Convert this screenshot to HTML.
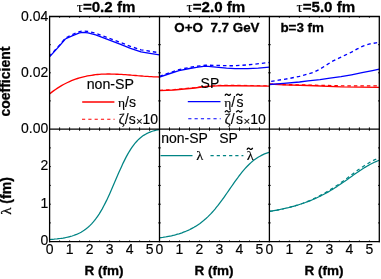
<!DOCTYPE html>
<html><head><meta charset="utf-8"><title>chart</title>
<style>html,body{margin:0;padding:0;background:#fff;}body{width:381px;height:279px;overflow:hidden;}svg{display:block;}text{font-family:"Liberation Sans",sans-serif;fill:#000;stroke:#000;stroke-width:0.15px;}.b{font-weight:bold;stroke-width:0.3px;}.s{font-family:"Liberation Serif",serif;}.tx{filter:grayscale(1);}</style></head><body>
<svg width="381" height="279" viewBox="0 0 381 279">
<rect width="381" height="279" fill="#fff"/>
<polyline points="49.5,94.0 51.5,92.4 53.5,90.9 55.5,89.5 57.5,88.1 59.5,86.9 61.5,85.7 63.5,84.5 65.5,83.5 67.5,82.5 69.5,81.6 71.5,80.7 73.5,79.9 75.5,79.2 77.5,78.5 79.5,77.9 81.5,77.3 83.5,76.8 85.5,76.4 87.5,75.9 89.5,75.6 91.5,75.3 93.5,75.0 95.5,74.7 97.5,74.5 99.5,74.4 101.5,74.2 103.5,74.1 105.5,74.1 107.5,74.0 109.5,74.0 111.5,74.1 113.5,74.1 115.5,74.2 117.5,74.2 119.5,74.3 121.5,74.4 123.5,74.6 125.5,74.7 127.5,74.9 129.5,75.0 131.5,75.2 133.5,75.3 135.5,75.5 137.5,75.7 139.5,75.8 141.5,76.0 143.5,76.2 145.5,76.3 147.5,76.4 149.5,76.6 151.5,76.7 153.5,76.8 155.5,76.9 157.5,76.9 159.5,77.0" fill="none" stroke="#ff0000" stroke-width="1.35" stroke-linejoin="round"/>
<polyline points="49.5,56.9 54.3,51.6 59.5,45.9 65.3,39.0 72.1,35.9 79.5,32.9 83.0,32.4 88.0,32.9 95.7,34.8 106.2,38.9 120.0,44.1 130.5,48.4 141.0,51.9 151.5,53.6 159.5,54.9" fill="none" stroke="#0000ff" stroke-width="1.35" stroke-linejoin="round"/>
<polyline points="49.5,56.1 54.3,50.9 59.5,45.1 65.3,38.2 72.1,34.7 79.5,31.6 83.0,30.9 88.0,31.5 95.7,33.2 106.2,37.2 120.0,42.3 130.5,46.4 141.0,49.8 151.5,51.5 159.5,52.8" fill="none" stroke="#0000ff" stroke-width="1.35" stroke-linejoin="round" stroke-dasharray="3.5,3.0" stroke-dashoffset="0.7"/>
<polyline points="159.5,90.6 173.7,90.0 189.5,88.5 195.0,88.0 198.0,87.5 205.5,86.7 221.2,85.7 235.0,85.7 269.4,86.2" fill="none" stroke="#ff0000" stroke-width="1.35" stroke-linejoin="round"/>
<polyline points="159.5,90.2 173.7,89.5 189.5,88.0 195.0,87.5 198.0,87.0 205.5,86.2 221.2,85.2 235.0,85.2 269.4,85.8" fill="none" stroke="#ff0000" stroke-width="0.9" stroke-linejoin="round" stroke-dasharray="3.5,3.0"/>
<polyline points="159.5,77.1 168.5,74.0 179.0,70.6 189.5,68.5 195.0,67.6 198.0,67.2 205.5,66.2 216.0,67.2 226.5,68.2 235.0,68.6 247.7,68.6 258.2,68.1 269.4,67.2" fill="none" stroke="#0000ff" stroke-width="1.35" stroke-linejoin="round"/>
<polyline points="159.5,76.4 168.5,73.1 179.0,69.6 189.5,67.4 195.0,66.5 205.5,65.2 216.0,65.4 226.5,65.7 235.1,65.7 247.7,64.9 260.3,63.5 269.4,62.5" fill="none" stroke="#0000ff" stroke-width="1.35" stroke-linejoin="round" stroke-dasharray="3.5,3.0"/>
<polyline points="269.4,84.1 283.7,84.8 308.0,85.5 341.0,86.8 379.3,87.4" fill="none" stroke="#ff0000" stroke-width="1.35" stroke-linejoin="round"/>
<polyline points="269.4,84.1 283.7,84.6 308.0,85.1 341.0,85.8 379.3,85.9" fill="none" stroke="#ff0000" stroke-width="1.35" stroke-linejoin="round" stroke-dasharray="3.5,3.0"/>
<polyline points="269.4,84.5 283.7,83.4 299.5,82.0 308.0,80.9 320.0,79.6 330.0,78.2 341.0,76.7 351.5,74.8 362.0,72.7 372.5,70.6 379.3,69.2" fill="none" stroke="#0000ff" stroke-width="1.35" stroke-linejoin="round"/>
<polyline points="269.4,81.7 278.5,80.2 289.0,78.5 299.5,76.4 307.7,74.1 314.0,72.2 320.3,68.9 326.4,65.0 332.6,61.2 338.9,58.1 345.2,55.1 351.5,52.2 357.3,48.9 363.6,45.8 369.9,43.9 376.2,42.8 379.3,42.4" fill="none" stroke="#0000ff" stroke-width="1.35" stroke-linejoin="round" stroke-dasharray="3.5,3.0" stroke-dashoffset="-1.8"/>
<polyline points="49.6,239.5 51.1,239.4 52.6,239.3 54.1,239.2 55.6,239.0 57.1,238.9 58.6,238.7 60.1,238.5 61.6,238.3 63.1,238.1 64.6,237.8 66.1,237.5 67.6,237.2 69.1,236.8 70.6,236.4 72.1,236.0 73.6,235.5 75.1,234.9 76.6,234.4 78.1,233.7 79.6,233.0 81.1,232.2 82.6,231.3 84.1,230.3 85.6,229.2 87.1,228.1 88.6,226.8 90.1,225.4 91.6,223.9 93.1,222.2 94.6,220.4 96.1,218.4 97.6,216.3 99.1,214.1 100.6,211.6 102.1,209.1 103.6,206.3 105.1,203.4 106.6,200.4 108.1,197.2 109.6,193.9 111.1,190.5 112.6,187.1 114.1,183.6 115.6,180.1 117.1,176.6 118.6,173.1 120.1,169.7 121.6,166.4 123.1,163.1 124.6,160.1 126.1,157.1 127.6,154.4 129.1,151.8 130.6,149.4 132.1,147.1 133.6,145.1 135.1,143.2 136.6,141.5 138.1,139.9 139.6,138.5 141.1,137.3 142.6,136.1 144.1,135.1 145.6,134.2 147.1,133.4 148.6,132.7 150.1,132.1 151.6,131.5 153.1,131.0 154.6,130.6 156.1,130.2 157.6,129.9 159.1,129.6 159.5,129.5" fill="none" stroke="#008484" stroke-width="1.25" stroke-linejoin="round"/>
<polyline points="159.5,237.9 161.0,237.7 162.5,237.5 164.0,237.2 165.5,237.0 167.0,236.7 168.5,236.4 170.0,236.1 171.5,235.8 173.0,235.4 174.5,235.1 176.0,234.7 177.5,234.2 179.0,233.8 180.5,233.3 182.0,232.8 183.5,232.2 185.0,231.7 186.5,231.0 188.0,230.4 189.5,229.7 191.0,228.9 192.5,228.1 194.0,227.3 195.5,226.4 197.0,225.4 198.5,224.4 200.0,223.4 201.5,222.2 203.0,221.1 204.5,219.8 206.0,218.5 207.5,217.1 209.0,215.6 210.5,214.1 212.0,212.5 213.5,210.8 215.0,209.1 216.5,207.2 218.0,205.4 219.5,203.4 221.0,201.4 222.5,199.4 224.0,197.3 225.5,195.2 227.0,193.0 228.5,190.9 230.0,188.7 231.5,186.5 233.0,184.4 234.5,182.2 236.0,180.1 237.5,178.1 239.0,176.0 240.5,174.1 242.0,172.2 243.5,170.4 245.0,168.7 246.5,167.0 248.0,165.5 249.5,164.0 251.0,162.6 252.5,161.3 254.0,160.1 255.5,159.0 257.0,158.0 258.5,157.0 260.0,156.2 261.5,155.4 263.0,154.6 264.5,153.9 266.0,153.3 267.5,152.8 269.0,152.3 269.4,152.2" fill="none" stroke="#008484" stroke-width="1.25" stroke-linejoin="round"/>
<polyline points="269.4,211.4 270.9,211.1 272.4,210.9 273.9,210.6 275.4,210.3 276.9,210.1 278.4,209.8 279.9,209.5 281.4,209.2 282.9,208.9 284.4,208.5 285.9,208.2 287.4,207.8 288.9,207.5 290.4,207.1 291.9,206.7 293.4,206.3 294.9,205.9 296.4,205.4 297.9,205.0 299.4,204.5 300.9,204.0 302.4,203.5 303.9,203.0 305.4,202.5 306.9,201.9 308.4,201.4 309.9,200.8 311.4,200.2 312.9,199.5 314.4,198.9 315.9,198.2 317.4,197.5 318.9,196.8 320.4,196.1 321.9,195.3 323.4,194.5 324.9,193.7 326.4,192.9 327.9,192.1 329.4,191.2 330.9,190.3 332.4,189.4 333.9,188.5 335.4,187.5 336.9,186.6 338.4,185.6 339.9,184.6 341.4,183.5 342.9,182.5 344.4,181.5 345.9,180.4 347.4,179.4 348.9,178.3 350.4,177.2 351.9,176.2 353.4,175.1 354.9,174.0 356.4,173.0 357.9,172.0 359.4,170.9 360.9,170.0 362.4,169.0 363.9,168.0 365.4,167.1 366.9,166.2 368.4,165.4 369.9,164.5 371.4,163.7 372.9,163.0 374.4,162.3 375.9,161.6 377.4,161.0 378.9,160.4 379.3,160.2" fill="none" stroke="#008484" stroke-width="1.25" stroke-linejoin="round"/>
<polyline points="269.4,211.4 270.9,211.1 272.4,210.9 273.9,210.6 275.4,210.3 276.9,210.1 278.4,209.8 279.9,209.5 281.4,209.2 282.9,208.9 284.4,208.5 285.9,208.2 287.4,207.8 288.9,207.5 290.4,207.1 291.9,206.7 293.4,206.3 294.9,205.9 296.4,205.4 297.9,205.0 299.4,204.5 300.9,204.0 302.4,203.5 303.9,202.9 305.4,202.3 306.9,201.7 308.4,201.1 309.9,200.5 311.4,199.8 312.9,199.1 314.4,198.4 315.9,197.7 317.4,197.0 318.9,196.2 320.4,195.4 321.9,194.6 323.4,193.8 324.9,193.0 326.4,192.1 327.9,191.2 329.4,190.3 330.9,189.3 332.4,188.4 333.9,187.4 335.4,186.4 336.9,185.4 338.4,184.4 339.9,183.3 341.4,182.2 342.9,181.2 344.4,180.1 345.9,179.0 347.4,177.9 348.9,176.7 350.4,175.6 351.9,174.5 353.4,173.4 354.9,172.3 356.4,171.2 357.9,170.1 359.4,169.1 360.9,168.0 362.4,167.0 363.9,166.0 365.4,165.0 366.9,164.1 368.4,163.2 369.9,162.3 371.4,161.5 372.9,160.7 374.4,159.9 375.9,159.2 377.4,158.5 378.9,157.9 379.3,157.7" fill="none" stroke="#008484" stroke-width="1.25" stroke-linejoin="round" stroke-dasharray="3.5,3.0"/>
<g stroke="#000" stroke-width="1.3" fill="none">
<path d="M49.0,16.5H379.90000000000003M49.0,129.1H379.90000000000003M49.0,241.7H379.90000000000003"/>
<path d="M49.6,15.9V242.29999999999998"/>
<path d="M159.5,15.9V242.29999999999998"/>
<path d="M269.4,15.9V242.29999999999998"/>
<path d="M379.3,15.9V242.29999999999998"/>
</g>
<path stroke="#000" stroke-width="0.9" fill="none" d="M59.6,16.5v1.3M59.6,127.35v3.5M59.6,241.7v-1.3M69.6,16.5v1.3M69.6,127.35v3.5M69.6,241.7v-1.3M79.6,16.5v1.3M79.6,127.35v3.5M79.6,241.7v-1.3M89.6,16.5v1.3M89.6,127.35v3.5M89.6,241.7v-1.3M99.6,16.5v1.3M99.6,127.35v3.5M99.6,241.7v-1.3M109.6,16.5v1.3M109.6,127.35v3.5M109.6,241.7v-1.3M119.6,16.5v1.3M119.6,127.35v3.5M119.6,241.7v-1.3M129.6,16.5v1.3M129.6,127.35v3.5M129.6,241.7v-1.3M139.6,16.5v1.3M139.6,127.35v3.5M139.6,241.7v-1.3M149.6,16.5v1.3M149.6,127.35v3.5M149.6,241.7v-1.3M49.6,100.9h1.3M49.6,72.8h1.3M49.6,44.7h1.3M49.6,222.9h1.3M49.6,204.2h1.3M49.6,185.4h1.3M49.6,166.6h1.3M49.6,147.9h1.3M169.5,16.5v1.3M169.5,127.35v3.5M169.5,241.7v-1.3M179.5,16.5v1.3M179.5,127.35v3.5M179.5,241.7v-1.3M189.5,16.5v1.3M189.5,127.35v3.5M189.5,241.7v-1.3M199.5,16.5v1.3M199.5,127.35v3.5M199.5,241.7v-1.3M209.5,16.5v1.3M209.5,127.35v3.5M209.5,241.7v-1.3M219.5,16.5v1.3M219.5,127.35v3.5M219.5,241.7v-1.3M229.5,16.5v1.3M229.5,127.35v3.5M229.5,241.7v-1.3M239.5,16.5v1.3M239.5,127.35v3.5M239.5,241.7v-1.3M249.5,16.5v1.3M249.5,127.35v3.5M249.5,241.7v-1.3M259.5,16.5v1.3M259.5,127.35v3.5M259.5,241.7v-1.3M158.15,100.9h2.7M158.15,72.8h2.7M158.15,44.7h2.7M158.15,222.9h2.7M158.15,204.2h2.7M158.15,185.4h2.7M158.15,166.6h2.7M158.15,147.9h2.7M279.4,16.5v1.3M279.4,127.35v3.5M279.4,241.7v-1.3M289.4,16.5v1.3M289.4,127.35v3.5M289.4,241.7v-1.3M299.4,16.5v1.3M299.4,127.35v3.5M299.4,241.7v-1.3M309.4,16.5v1.3M309.4,127.35v3.5M309.4,241.7v-1.3M319.4,16.5v1.3M319.4,127.35v3.5M319.4,241.7v-1.3M329.4,16.5v1.3M329.4,127.35v3.5M329.4,241.7v-1.3M339.4,16.5v1.3M339.4,127.35v3.5M339.4,241.7v-1.3M349.4,16.5v1.3M349.4,127.35v3.5M349.4,241.7v-1.3M359.4,16.5v1.3M359.4,127.35v3.5M359.4,241.7v-1.3M369.4,16.5v1.3M369.4,127.35v3.5M369.4,241.7v-1.3M268.05,100.9h2.7M379.3,100.9h-1.3M268.05,72.8h2.7M379.3,72.8h-1.3M268.05,44.7h2.7M379.3,44.7h-1.3M268.05,222.9h2.7M379.3,222.9h-1.3M268.05,204.2h2.7M379.3,204.2h-1.3M268.05,185.4h2.7M379.3,185.4h-1.3M268.05,166.6h2.7M379.3,166.6h-1.3M268.05,147.9h2.7M379.3,147.9h-1.3"/>
<g class="tx">
<text x="76.7" y="12.4" font-size="15" class="s" stroke-width="0.35">τ</text>
<text x="82.9" y="12.4" font-size="15.1" class="b">=0.2 fm</text>
<text x="186.6" y="12.4" font-size="15" class="s" stroke-width="0.35">τ</text>
<text x="192.8" y="12.4" font-size="15.1" class="b">=2.0 fm</text>
<text x="296.5" y="12.4" font-size="15" class="s" stroke-width="0.35">τ</text>
<text x="302.7" y="12.4" font-size="15.1" class="b">=5.0 fm</text>
<text x="48.3" y="20.5" font-size="14" text-anchor="end">0.04</text>
<text x="48.3" y="76.7" font-size="14" text-anchor="end">0.02</text>
<text x="48.3" y="132.9" font-size="14" text-anchor="end">0.00</text>
<text x="48.3" y="170.3" font-size="14" text-anchor="end">2</text>
<text x="48.3" y="207.6" font-size="14" text-anchor="end">1</text>
<text x="48.3" y="245" font-size="14" text-anchor="end">0</text>
<text x="49.6" y="253.9" font-size="14" text-anchor="middle">0</text>
<text x="69.6" y="253.9" font-size="14" text-anchor="middle">1</text>
<text x="89.6" y="253.9" font-size="14" text-anchor="middle">2</text>
<text x="109.6" y="253.9" font-size="14" text-anchor="middle">3</text>
<text x="129.6" y="253.9" font-size="14" text-anchor="middle">4</text>
<text x="149.6" y="253.9" font-size="14" text-anchor="middle">5</text>
<text x="104.1" y="275.4" font-size="13.5" text-anchor="middle" class="b">R (fm)</text>
<text x="159.5" y="253.9" font-size="14" text-anchor="middle">0</text>
<text x="179.5" y="253.9" font-size="14" text-anchor="middle">1</text>
<text x="199.5" y="253.9" font-size="14" text-anchor="middle">2</text>
<text x="219.5" y="253.9" font-size="14" text-anchor="middle">3</text>
<text x="239.5" y="253.9" font-size="14" text-anchor="middle">4</text>
<text x="259.5" y="253.9" font-size="14" text-anchor="middle">5</text>
<text x="214.0" y="275.4" font-size="13.5" text-anchor="middle" class="b">R (fm)</text>
<text x="269.4" y="253.9" font-size="14" text-anchor="middle">0</text>
<text x="289.4" y="253.9" font-size="14" text-anchor="middle">1</text>
<text x="309.4" y="253.9" font-size="14" text-anchor="middle">2</text>
<text x="329.4" y="253.9" font-size="14" text-anchor="middle">3</text>
<text x="349.4" y="253.9" font-size="14" text-anchor="middle">4</text>
<text x="369.4" y="253.9" font-size="14" text-anchor="middle">5</text>
<text x="323.9" y="275.4" font-size="13.5" text-anchor="middle" class="b">R (fm)</text>
<text transform="translate(10.3,81.6) rotate(-90)" font-size="14" text-anchor="middle" class="b">coefficient</text>
<text transform="translate(10.7,196.0) rotate(-90)" font-size="14" text-anchor="middle" class="b"><tspan class="s" font-size="15" font-weight="normal">λ</tspan> (fm)</text>
<text x="174.3" y="32.3" font-size="13.4" text-anchor="start" class="b">O+O&#160;&#160;7.7 GeV</text>
<text x="280.4" y="32.3" font-size="13.4" text-anchor="start" class="b">b=3 fm</text>
<text x="86.7" y="89.2" font-size="14.2" text-anchor="start">non-SP</text>
<text x="200.6" y="88.35" font-size="14" text-anchor="start">SP</text>
<text x="161.2" y="143.3" font-size="14" text-anchor="start">non-SP</text>
<text x="219.2" y="143.3" font-size="14" text-anchor="start">SP</text>
<text x="118.0" y="107.0" font-size="14"><tspan class="s" font-size="13.5">η</tspan>/s</text>
<text x="118.6" y="124.0" font-size="14"><tspan class="s" font-size="15">ζ</tspan>/s<tspan font-size="11.5" dx="0.4" dy="0.9">×</tspan><tspan dx="-0.3" dy="-0.9">10</tspan></text>
<text x="224.2" y="106.8" font-size="14"><tspan class="s" font-size="13.5">η</tspan>/<tspan dx="1.3">s</tspan></text>
<text x="224.6" y="123.8" font-size="14"><tspan class="s" font-size="15">ζ</tspan>/<tspan dx="1.3">s</tspan><tspan font-size="11.5" dx="0.6" dy="0.9">×</tspan><tspan dx="0" dy="-0.9">10</tspan></text>
<text transform="translate(196.2,159.8) scale(1.13,1)" font-size="12.9" class="s">λ</text>
<text transform="translate(246.8,159.8) scale(1.13,1)" font-size="12.9" class="s">λ</text>
</g>
<path d="M82.2,102.0H114.4" stroke="#ff0000" stroke-width="1.3" fill="none"/>
<path d="M82.0,119.2H114.6" stroke="#ff0000" stroke-width="1.15" fill="none" stroke-dasharray="3.2,3.1"/>
<path d="M187.8,101.6H220.5" stroke="#0000ff" stroke-width="1.3" fill="none"/>
<path d="M188.25,118.7H220.7" stroke="#0000ff" stroke-width="1.15" fill="none" stroke-dasharray="3.2,3.1"/>
<path d="M224.9,95.65q1.45,-2.6 2.9,-0.9t2.9,-0.9" stroke="#000" stroke-width="1.25" fill="none"/>
<path d="M236.2,95.65q1.55,-2.6 3.1,-0.9t3.1,-0.9" stroke="#000" stroke-width="1.25" fill="none"/>
<path d="M224.9,112.30000000000001q1.45,-2.6 2.9,-0.9t2.9,-0.9" stroke="#000" stroke-width="1.25" fill="none"/>
<path d="M236.2,112.30000000000001q1.55,-2.6 3.1,-0.9t3.1,-0.9" stroke="#000" stroke-width="1.25" fill="none"/>
<path d="M160.5,155.55H192.5" stroke="#008484" stroke-width="1.3" fill="none"/>
<path d="M210.5,155.55H243.4" stroke="#008484" stroke-width="1.15" fill="none" stroke-dasharray="3.2,3.0"/>
<path d="M246.9,149.70000000000002q1.45,-2.6 2.9,-0.9t2.9,-0.9" stroke="#000" stroke-width="1.25" fill="none"/>
</svg></body></html>
